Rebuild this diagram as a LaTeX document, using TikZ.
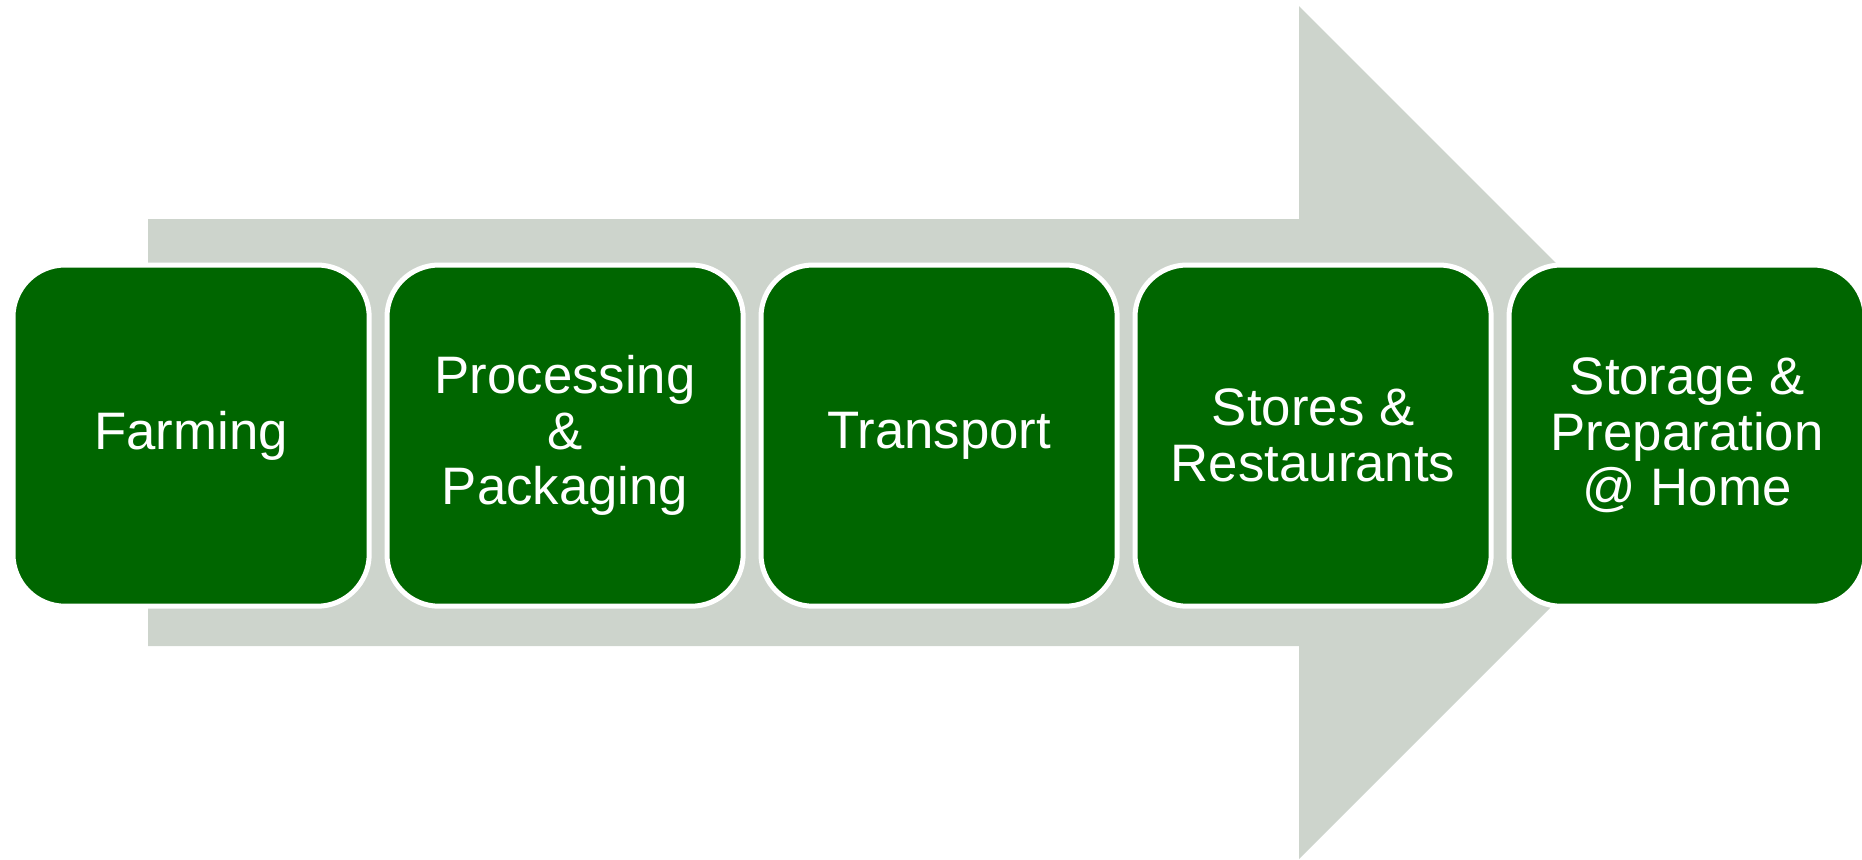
\documentclass[tikz,border=0pt]{standalone}
\usepackage{fontspec}
\setmainfont{Liberation Sans}
\definecolor{stepgreen}{RGB}{0,102,0}
\definecolor{arrowgray}{RGB}{205,212,204}
\tikzset{
  stagebox/.style={draw=white, line width=0.05cm, fill=stepgreen, rounded corners=0.52cm,
    minimum width=3.56cm, minimum height=3.41cm, inner sep=0pt, text=white, align=center,
    font=\fontsize{15pt}{15.8pt}\selectfont, anchor=north west},
  bigarrow/.style={fill=arrowgray, draw=none}
}
\begin{document}
\begin{tikzpicture}[x=0.01cm, y=-0.01cm]
\useasboundingbox (0,0) rectangle (1862,859);
\fill[bigarrow] (148,219) -- (1299,219) -- (1299,6) -- (1725.5,432.5) -- (1299,859) -- (1299,646) -- (148,646) -- cycle;
\node[stagebox] (farm) at (10.5,262.5) {Farming};
\node[stagebox] (proc) at (384.5,262.5) {Processing\\\&\\Packaging};
\node[stagebox] (trans) at (758.5,262.5) {Transport};
\node[stagebox] (store) at (1132.5,262.5) {Stores \&\\Restaurants};
\node[stagebox] (home) at (1506.5,262.5) {Storage \&\\Preparation\\@ Home};
\end{tikzpicture}
\end{document}
